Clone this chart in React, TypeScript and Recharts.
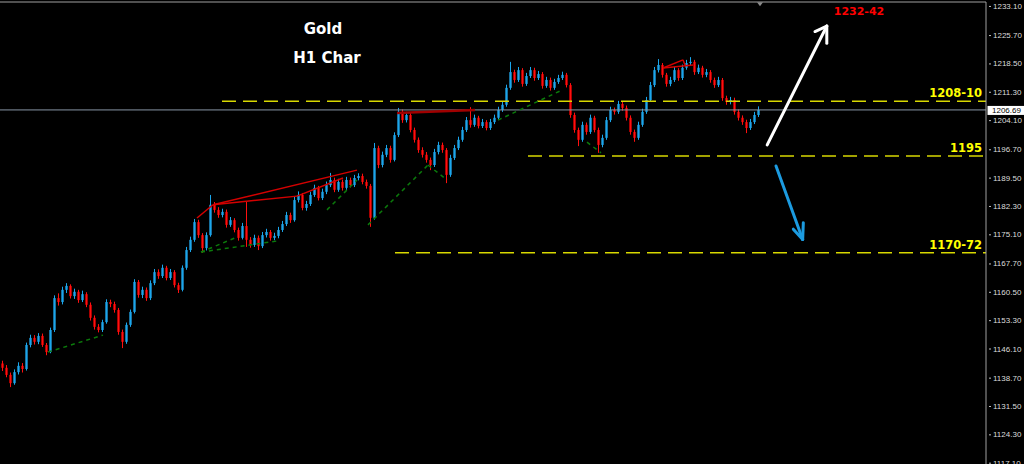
import React from 'react'
import { ComposedChart, Bar, XAxis, YAxis, ReferenceLine, ReferenceDot } from 'recharts'

// Gold H1 candles (one bar per hour)
const opens = [
  1142.3, 1141.2, 1139.4, 1137.3, 1140.1, 1141.7, 1140.9, 1147.0, 1148.8, 1147.8,
  1149.3, 1147.0, 1145.2, 1150.8, 1158.9, 1157.9, 1161.0, 1162.0, 1159.4, 1160.5,
  1158.4, 1159.9, 1157.2, 1153.9, 1151.6, 1150.8, 1152.8, 1157.9, 1157.4, 1155.9,
  1150.3, 1147.8, 1152.1, 1155.4, 1163.0, 1159.7, 1161.0, 1158.9, 1162.7, 1165.5,
  1164.5, 1166.6, 1164.0, 1165.5, 1162.2, 1161.0, 1166.6, 1171.1, 1173.7, 1178.2,
  1174.9, 1171.6, 1174.9, 1182.6, 1181.3, 1180.0, 1180.8, 1177.5, 1178.7, 1176.2,
  1174.2, 1177.2, 1173.7, 1172.4, 1174.2, 1172.1, 1174.9, 1175.7, 1174.2, 1174.7,
  1176.2, 1177.7, 1180.0, 1178.7, 1183.8, 1185.1, 1181.8, 1182.8, 1185.1, 1186.9,
  1184.3, 1185.9, 1187.6, 1188.9, 1186.4, 1188.4, 1186.9, 1188.9, 1187.6, 1189.4,
  1189.9, 1188.4, 1187.4, 1179.3, 1197.0, 1192.7, 1195.3, 1197.0, 1194.0, 1200.3,
  1206.2, 1204.1, 1205.4, 1201.6, 1199.1, 1196.5, 1195.3, 1194.0, 1192.7, 1196.0,
  1197.8, 1196.5, 1190.2, 1194.5, 1197.0, 1199.1, 1201.6, 1204.1, 1202.9, 1204.7,
  1202.6, 1203.6, 1202.1, 1203.6, 1204.7, 1206.7, 1208.0, 1212.3, 1216.3, 1214.3,
  1216.8, 1213.3, 1215.3, 1216.8, 1214.8, 1215.8, 1212.8, 1214.3, 1212.3, 1213.8,
  1214.8, 1215.6, 1213.0, 1205.4, 1201.6, 1199.1, 1202.9, 1201.1, 1204.7, 1201.6,
  1197.8, 1199.6, 1204.1, 1206.7, 1206.2, 1208.2, 1207.2, 1204.7, 1201.1, 1199.6,
  1202.9, 1206.2, 1209.2, 1213.0, 1216.8, 1218.1, 1215.6, 1213.3, 1214.3, 1216.8,
  1214.8, 1217.4, 1218.6, 1218.9, 1216.3, 1217.4, 1215.6, 1216.3, 1214.3, 1213.0,
  1214.3, 1209.7, 1208.7, 1209.2, 1206.2, 1204.7, 1203.6, 1202.1, 1203.6, 1205.4,
]
const closes = [
  1141.2, 1139.4, 1137.3, 1140.1, 1141.7, 1140.9, 1147.0, 1148.8, 1147.8, 1149.3,
  1147.0, 1145.2, 1150.8, 1158.9, 1157.9, 1161.0, 1162.0, 1159.4, 1160.5, 1158.4,
  1159.9, 1157.2, 1153.9, 1151.6, 1150.8, 1152.8, 1157.9, 1157.4, 1155.9, 1150.3,
  1147.8, 1152.1, 1155.4, 1163.0, 1159.7, 1161.0, 1158.9, 1162.7, 1165.5, 1164.5,
  1166.6, 1164.0, 1165.5, 1162.2, 1161.0, 1166.6, 1171.1, 1173.7, 1178.2, 1174.9,
  1171.6, 1174.9, 1182.6, 1181.3, 1180.0, 1180.8, 1177.5, 1178.7, 1176.2, 1174.2,
  1177.2, 1173.7, 1172.4, 1174.2, 1172.1, 1174.9, 1175.7, 1174.2, 1174.7, 1176.2,
  1177.7, 1180.0, 1178.7, 1183.8, 1185.1, 1181.8, 1182.8, 1185.1, 1186.9, 1184.3,
  1185.9, 1187.6, 1188.9, 1186.4, 1188.4, 1186.9, 1188.9, 1187.6, 1189.4, 1189.9,
  1188.4, 1187.4, 1179.3, 1197.0, 1192.7, 1195.3, 1197.0, 1194.0, 1200.3, 1206.2,
  1204.1, 1205.4, 1201.6, 1199.1, 1196.5, 1195.3, 1194.0, 1192.7, 1196.0, 1197.8,
  1196.5, 1190.2, 1194.5, 1197.0, 1199.1, 1201.6, 1204.1, 1202.9, 1204.7, 1202.6,
  1203.6, 1202.1, 1203.6, 1204.7, 1206.7, 1208.0, 1212.3, 1216.3, 1214.3, 1216.8,
  1213.3, 1215.3, 1216.8, 1214.8, 1215.8, 1212.8, 1214.3, 1212.3, 1213.8, 1214.8,
  1215.6, 1213.0, 1205.4, 1201.6, 1199.1, 1202.9, 1201.1, 1204.7, 1201.6, 1197.8,
  1199.6, 1204.1, 1206.7, 1206.2, 1208.2, 1207.2, 1204.7, 1201.1, 1199.6, 1202.9,
  1206.2, 1209.2, 1213.0, 1216.8, 1218.1, 1215.6, 1213.3, 1214.3, 1216.8, 1214.8,
  1217.4, 1218.6, 1218.9, 1216.3, 1217.4, 1215.6, 1216.3, 1214.3, 1213.0, 1214.3,
  1209.7, 1208.7, 1209.2, 1206.2, 1204.7, 1203.6, 1202.1, 1203.6, 1205.4, 1206.69,
]
const highs = [
  1143.0, 1141.9, 1140.0, 1140.8, 1142.6, 1142.4, 1147.6, 1149.6, 1149.5, 1150.0,
  1149.9, 1147.5, 1151.4, 1159.6, 1160.1, 1161.8, 1162.7, 1162.4, 1161.3, 1161.0,
  1160.8, 1160.4, 1157.8, 1154.5, 1152.3, 1153.4, 1158.6, 1158.5, 1158.0, 1156.4,
  1150.9, 1152.7, 1156.0, 1163.7, 1163.5, 1161.8, 1161.6, 1163.4, 1166.3, 1166.2,
  1167.4, 1167.1, 1166.3, 1166.0, 1162.8, 1167.2, 1171.9, 1174.5, 1179.0, 1178.8,
  1175.4, 1175.6, 1185.1, 1183.3, 1182.0, 1181.6, 1181.4, 1179.5, 1179.2, 1176.8,
  1178.0, 1183.3, 1174.4, 1175.0, 1174.8, 1175.7, 1176.5, 1176.2, 1175.5, 1177.0,
  1178.5, 1180.8, 1180.6, 1184.6, 1186.0, 1185.6, 1183.6, 1185.9, 1187.7, 1187.4,
  1186.7, 1188.5, 1190.7, 1189.5, 1189.2, 1189.0, 1189.7, 1189.5, 1190.2, 1190.6,
  1190.5, 1189.0, 1187.9, 1198.3, 1197.6, 1196.1, 1197.8, 1197.6, 1201.0, 1207.2,
  1206.8, 1206.2, 1206.0, 1202.2, 1199.7, 1197.2, 1196.0, 1194.6, 1196.8, 1198.6,
  1198.4, 1197.0, 1195.3, 1197.8, 1199.9, 1202.4, 1204.9, 1207.4, 1205.5, 1205.2,
  1204.4, 1204.1, 1204.4, 1205.5, 1207.5, 1208.8, 1213.1, 1218.9, 1216.9, 1217.6,
  1217.3, 1216.1, 1217.6, 1217.4, 1216.6, 1216.3, 1215.1, 1214.9, 1214.6, 1215.6,
  1216.4, 1216.1, 1213.5, 1206.0, 1202.2, 1203.7, 1203.5, 1205.5, 1205.2, 1202.2,
  1200.4, 1204.9, 1207.5, 1207.3, 1209.0, 1208.8, 1207.8, 1205.3, 1201.7, 1203.7,
  1207.0, 1210.0, 1213.8, 1217.6, 1219.6, 1218.6, 1216.1, 1215.1, 1217.6, 1217.3,
  1218.2, 1219.4, 1220.1, 1219.4, 1218.2, 1217.9, 1217.1, 1216.8, 1214.9, 1215.1,
  1214.8, 1210.3, 1210.0, 1209.8, 1206.8, 1205.3, 1204.2, 1204.4, 1206.2, 1207.6,
]
const lows = [
  1140.4, 1138.8, 1136.3, 1136.9, 1139.5, 1140.0, 1140.5, 1146.4, 1147.1, 1147.2,
  1146.5, 1144.4, 1144.9, 1150.3, 1157.0, 1157.3, 1160.2, 1158.8, 1158.7, 1157.7,
  1157.9, 1156.6, 1153.2, 1150.9, 1150.2, 1150.3, 1152.4, 1156.6, 1155.2, 1149.6,
  1146.2, 1147.3, 1151.6, 1155.0, 1159.0, 1158.9, 1158.2, 1158.4, 1162.2, 1163.8,
  1164.0, 1163.4, 1163.5, 1161.6, 1160.2, 1160.6, 1166.1, 1170.6, 1173.2, 1174.2,
  1170.4, 1171.0, 1174.5, 1180.6, 1179.3, 1179.4, 1176.8, 1177.0, 1175.6, 1173.5,
  1173.8, 1171.9, 1171.7, 1171.9, 1171.1, 1171.6, 1174.3, 1173.5, 1173.6, 1174.1,
  1175.7, 1177.2, 1178.0, 1178.3, 1183.2, 1181.2, 1181.1, 1182.3, 1184.6, 1183.7,
  1183.8, 1185.3, 1187.1, 1185.8, 1185.9, 1186.2, 1186.4, 1187.0, 1187.1, 1188.8,
  1187.8, 1186.7, 1177.0, 1178.8, 1191.9, 1192.1, 1194.7, 1193.3, 1193.6, 1199.8,
  1203.4, 1203.5, 1201.0, 1198.4, 1195.8, 1194.6, 1193.3, 1191.4, 1192.2, 1195.4,
  1195.8, 1188.1, 1189.7, 1194.0, 1196.5, 1198.6, 1201.1, 1202.2, 1202.4, 1202.0,
  1202.1, 1201.5, 1201.6, 1203.1, 1204.2, 1206.2, 1207.5, 1211.8, 1213.6, 1213.8,
  1212.6, 1212.8, 1214.8, 1214.1, 1214.3, 1212.1, 1212.3, 1211.6, 1211.8, 1213.3,
  1214.3, 1212.4, 1204.7, 1200.9, 1197.5, 1198.6, 1200.4, 1200.6, 1201.0, 1195.8,
  1197.2, 1199.1, 1203.6, 1205.5, 1205.7, 1206.5, 1204.0, 1200.4, 1198.6, 1199.1,
  1202.4, 1205.7, 1208.7, 1212.5, 1216.2, 1214.9, 1212.6, 1212.7, 1213.8, 1214.1,
  1214.3, 1216.9, 1218.0, 1215.6, 1215.8, 1214.9, 1215.0, 1213.6, 1212.3, 1212.5,
  1209.0, 1208.0, 1208.1, 1205.5, 1204.0, 1202.9, 1200.8, 1201.6, 1203.1, 1204.9,
]

const priceTicks = [
  1117.1, 1124.3, 1131.5, 1138.7, 1146.1, 1153.3, 1160.5, 1167.7, 1175.1,
  1182.3, 1189.5, 1196.7, 1204.1, 1211.3, 1218.5, 1225.7, 1233.1,
]

// horizontal levels drawn by the analyst: price, first bar, text
const levels = [
  { price: 1208.9, from: 55, text: '1208-10' },
  { price: 1195.0, from: 131.5, text: '1195' },
  { price: 1170.4, from: 98.25, text: '1170-72' },
]

// trendlines as [bar, price] pairs
const redLines = [
  [[48.75, 1179.25], [52.75, 1182.6]],
  [[52.75, 1182.6], [88.75, 1191.4]],
  [[52.75, 1182.6], [73.75, 1184.8]],
  [[73.75, 1184.8], [85.25, 1189.4]],
  [[165.25, 1217.35], [170.25, 1219.4]],
  [[170.25, 1219.4], [170.75, 1218.1]],
  [[165.25, 1217.35], [172.75, 1218.1]],
]
const darkRedLines = [
  [[98.75, 1205.9], [118.25, 1206.7]],
]
const greenLines = [
  [[11.5, 1145.2], [25.25, 1149.5]],
  [[49.75, 1170.6], [58.75, 1174.4]],
  [[49.75, 1170.6], [68.75, 1173.4]],
  [[81.25, 1181.3], [88.75, 1188.9]],
  [[91.5, 1177.5], [106.5, 1192.7]],
  [[106.5, 1192.7], [111.25, 1188.9]],
  [[124, 1204.1], [139.5, 1211.5]],
  [[146.25, 1198.5], [149.75, 1195.8]],
]
const upArrow = [
  [[191.3, 1197.8], [206.2, 1228.0]],
  [[206.2, 1228.0], [203.25, 1226.6]],
  [[206.2, 1228.0], [206.2, 1223.6]],
]
const downArrow = [
  [[193.5, 1192.45], [200.17, 1173.8]],
  [[200.17, 1173.8], [197.83, 1176.4]],
  [[200.17, 1173.8], [200.33, 1178.05]],
]

const X_MIN = -0.5
const X_MAX = 246
const Y_MIN = 1116.77
const Y_MAX = 1234.1
const lastPrice = closes[closes.length - 1]

const candles = closes.map((c, i) => ({
  i,
  open: opens[i],
  high: highs[i],
  low: lows[i],
  close: c,
  range: [lows[i], highs[i]],
}))

const Candle = (props: any) => {
  const { x, y, width, height, payload } = props
  const { open, close, high, low } = payload
  const top = Math.min(y, y + height)
  const span = Math.abs(height)
  const py = (p: number) => (high === low ? top : top + ((high - p) / (high - low)) * span)
  const up = close >= open
  const cx = Math.round(x + width / 2)
  const bTop = py(Math.max(open, close))
  const bBot = py(Math.min(open, close))
  return (
    <g>
      <rect x={cx - 1} y={bTop} width={3} height={Math.max(1, bBot - bTop)} fill={up ? '#17709e' : '#a80000'} />
      <line x1={cx + 0.5} x2={cx + 0.5} y1={top} y2={top + span} stroke={up ? '#1aa6ec' : '#ff1010'} />
    </g>
  )
}

const PriceTick = (props: any) => {
  const { x, y, payload } = props
  return (
    <g>
      <line x1={x + 3} x2={x + 5} y1={y + 0.5} y2={y + 0.5} stroke="#c0c0c0" />
      <text x={x + 7} y={y + 3} fill="#dcdcdc" fontSize={8} fontFamily="'Liberation Sans Narrow', 'Liberation Sans', sans-serif">
        {payload.value.toFixed(2)}
      </text>
    </g>
  )
}

const PriceTag = (props: any) => {
  const { viewBox } = props
  const x = viewBox.x + viewBox.width
  const y = viewBox.y
  return (
    <g>
      <rect x={x + 1.5} y={y - 4} width={37} height={9} fill="#ffffff" />
      <text x={x + 6} y={y + 3} fill="#000" fontSize={8} fontFamily="'Liberation Sans Narrow', 'Liberation Sans', sans-serif">
        {lastPrice.toFixed(2)}
      </text>
    </g>
  )
}

const seg = (s: number[][]) => [{ x: s[0][0], y: s[0][1] }, { x: s[1][0], y: s[1][1] }]

const titleStyle = { fill: '#ffffff', fontSize: 15, fontWeight: 700, fontFamily: 'DejaVu Sans' }

export default function App() {
  return (
    <div>
      <style>{'body{margin:0;background:#000;}'}</style>
      <ComposedChart
        width={1024}
        height={464}
        data={candles}
        margin={{ top: 2, right: 0, bottom: 0, left: 0 }}
        style={{ background: '#000' }}
      >
        <XAxis dataKey="i" type="number" domain={[X_MIN, X_MAX]} allowDataOverflow hide />
        <YAxis
          orientation="right"
          width={38}
          domain={[Y_MIN, Y_MAX]}
          allowDataOverflow
          ticks={priceTicks}
          interval={0}
          tickSize={0}
          tickMargin={0}
          tickLine={false}
          axisLine={{ stroke: '#a0a0a0' }}
          tick={<PriceTick />}
        />
        <ReferenceLine y={Y_MAX} stroke="#a0a0a0" />
        <ReferenceLine y={lastPrice} stroke="#8796a5" label={<PriceTag />} />
        {levels.map((lv) => (
          <ReferenceLine
            key={lv.text}
            segment={[{ x: lv.from, y: lv.price }, { x: X_MAX, y: lv.price }]}
            stroke="#d8d800"
            strokeWidth={1.5}
            strokeDasharray="14 7"
            label={{
              value: lv.text,
              position: 'insideBottomRight',
              offset: 4,
              fill: '#ffff00',
              fontSize: 11.5,
              fontWeight: 700,
              fontFamily: 'DejaVu Sans',
            }}
          />
        ))}
        <Bar dataKey="range" barSize={3} shape={<Candle />} isAnimationActive={false} />
        {greenLines.map((s, k) => (
          <ReferenceLine key={'g' + k} segment={seg(s)} stroke="#0b7a0b" strokeWidth={1.5} strokeDasharray="4 4" />
        ))}
        {redLines.map((s, k) => (
          <ReferenceLine key={'r' + k} segment={seg(s)} stroke="#d40000" strokeWidth={1.5} />
        ))}
        {darkRedLines.map((s, k) => (
          <ReferenceLine key={'dr' + k} segment={seg(s)} stroke="#a00000" strokeWidth={2.5} />
        ))}
        {upArrow.map((s, k) => (
          <ReferenceLine key={'u' + k} segment={seg(s)} stroke="#ffffff" strokeWidth={3} strokeLinecap="round" />
        ))}
        {downArrow.map((s, k) => (
          <ReferenceLine key={'d' + k} segment={seg(s)} stroke="#1c9be0" strokeWidth={3} strokeLinecap="round" />
        ))}
        <ReferenceDot x={80.25} y={1227.4} r={0} fill="none" stroke="none" label={{ value: 'Gold', position: 'center', ...titleStyle }} />
        <ReferenceDot x={81.25} y={1220.0} r={0} fill="none" stroke="none" label={{ value: 'H1 Char', position: 'center', ...titleStyle }} />
        <ReferenceDot
          x={214.25}
          y={1231.7}
          r={0}
          fill="none"
          stroke="none"
          label={{ value: '1232-42', position: 'center', fill: '#ff0000', fontSize: 11, fontWeight: 700, fontFamily: 'DejaVu Sans' }}
        />
        <ReferenceDot
          x={189.5}
          y={1233.5}
          shape={(p: any) => <path d={`M${p.cx - 3},${p.cy - 2} L${p.cx + 3},${p.cy - 2} L${p.cx},${p.cy + 2} Z`} fill="#8a8a8a" />}
        />
      </ComposedChart>
    </div>
  )
}
